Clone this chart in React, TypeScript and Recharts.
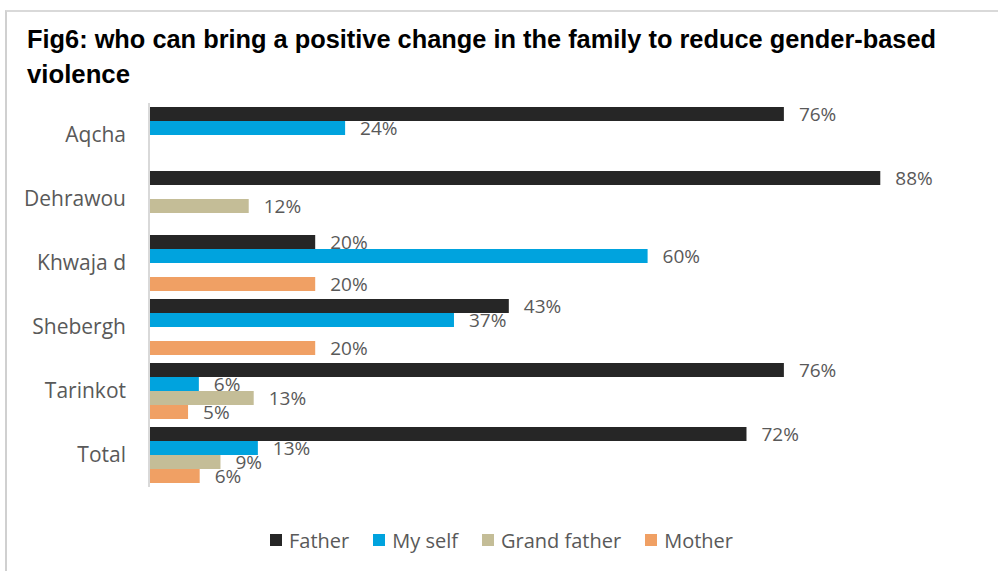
import React from "react";
import { BarChart, Bar, XAxis, YAxis, LabelList } from "recharts";

const categories = ["Aqcha", "Dehrawou", "Khwaja d", "Shebergh", "Tarinkot", "Total"];
const father = [76.4, 88, 20, 43.3, 76.4, 71.9];
const mySelf = [23.6, null, 60, 36.7, 6, 13.1];
const grandFather = [null, 12, null, null, 12.6, 8.6];
const mother = [null, null, 20, 20, 4.7, 6.1];

const seriesNames = ["Father", "My self", "Grand father", "Mother"];
const seriesKeys = ["father", "mySelf", "grandFather", "mother"];
const seriesColors = ["#262626", "#00a3de", "#c4bd97", "#f0a064"];

const data = categories.map((name, i) => ({
  name,
  father: father[i],
  mySelf: mySelf[i],
  grandFather: grandFather[i],
  mother: mother[i],
}));

const FONT = "'Open Sans', 'Noto Sans', sans-serif";
const GREY = "#595959";

const fmt = (v: any) => (v === null || v === undefined ? "" : `${Math.round(Number(v))}%`);

const App = () => {
  return (
    <div
      style={{
        position: "fixed",
        left: 0,
        top: 0,
        width: 998,
        height: 571,
        overflow: "hidden",
        background: "#fff",
      }}
    >
      {/* chart frame, cut off on the right and bottom */}
      <div
        style={{
          position: "absolute",
          left: 5,
          top: 10,
          width: 1100,
          height: 700,
          borderLeft: "2px solid #d0d0d0",
          borderTop: "2px solid #d9d9d9",
        }}
      />
      <svg
        width={998}
        height={100}
        style={{ position: "absolute", left: 0, top: 0 }}
      >
        <text
          x={27}
          y={48}
          fontFamily="'Liberation Sans', Arial, sans-serif"
          fontWeight="bold"
          fontSize={25}
          fill="#000"
          textLength={909}
          lengthAdjust="spacingAndGlyphs"
        >
          Fig6: who can bring a positive change in the family to reduce gender-based
        </text>
        <text
          x={27}
          y={83}
          fontFamily="'Liberation Sans', Arial, sans-serif"
          fontWeight="bold"
          fontSize={25}
          fill="#000"
          textLength={103}
          lengthAdjust="spacingAndGlyphs"
        >
          violence
        </text>
      </svg>
      <div style={{ position: "absolute", left: 0, top: 0 }}>
        <BarChart
          width={998}
          height={571}
          data={data}
          layout="vertical"
          margin={{ top: 103, right: 18, left: 0, bottom: 84 }}
          barGap={0}
          barSize={14}
        >
          <XAxis type="number" domain={[0, 100]} hide />
          <YAxis
            type="category"
            dataKey="name"
            width={149}
            tickLine={false}
            tickSize={0}
            tickMargin={23}
            axisLine={{ stroke: "#d9d9d9", strokeWidth: 2 }}
            tick={{ fill: GREY, fontSize: 21, fontFamily: FONT }}
          />
          {seriesKeys.map((k, i) => (
            <Bar
              key={k}
              dataKey={k}
              name={seriesNames[i]}
              fill={seriesColors[i]}
              isAnimationActive={false}
            >
              <LabelList
                dataKey={k}
                position="right"
                offset={15}
                formatter={fmt}
                fill={GREY}
                fontSize={19}
                fontFamily={FONT}
              />
            </Bar>
          ))}
        </BarChart>
      </div>
      {/* legend */}
      <div
        style={{
          position: "absolute",
          left: 270,
          top: 526,
          height: 28,
          display: "flex",
          alignItems: "center",
          fontFamily: FONT,
          fontSize: 20,
          color: GREY,
          whiteSpace: "nowrap",
        }}
      >
        {seriesNames.map((n, i) => (
          <div
            key={n}
            style={{ display: "flex", alignItems: "center", marginRight: 24 }}
          >
            <span
              style={{
                display: "inline-block",
                width: 12,
                height: 12,
                background: seriesColors[i],
                marginRight: 7,
              }}
            />
            <span>{n}</span>
          </div>
        ))}
      </div>
    </div>
  );
};

export default App;
